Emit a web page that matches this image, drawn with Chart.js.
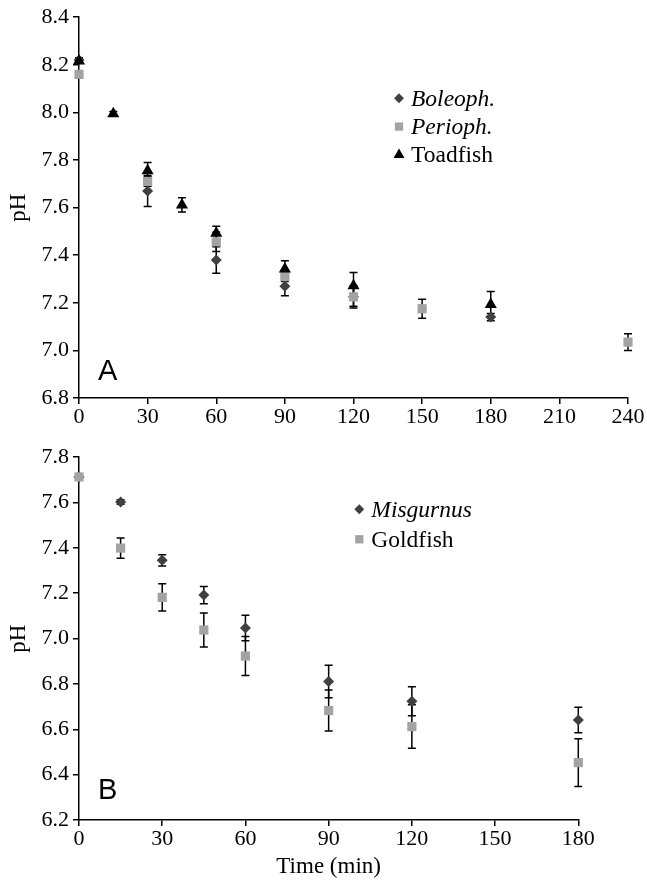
<!DOCTYPE html>
<html lang="en">
<head>
    <meta charset="UTF-8">
    <title>pH over time</title>
    <style>
        body {
            margin: 0;
            background-color: #ffffff;
        }
        .panel {
            position: absolute;
            left: 0;
            width: 647px;
        }
        #panelA { top: 0; height: 440px; }
        #panelB { top: 440px; height: 441px; }
    </style>
    <script src="https://cdn.jsdelivr.net/npm/chart.js"></script>
</head>
<body>
    <div id="panelA" class="panel"><canvas id="chartA"></canvas></div>
    <div id="panelB" class="panel"><canvas id="chartB"></canvas></div>

    <script>
        // Panel A
        const xTicksA = [0, 30, 60, 90, 120, 150, 180, 210, 240];
        const yTicksA = [6.8, 7.0, 7.2, 7.4, 7.6, 7.8, 8.0, 8.2, 8.4];

        const boleophTimes = [0, 30, 60, 90, 120, 180];
        const boleophPH = [8.22, 7.67, 7.38, 7.27, 7.225, 7.14];
        const boleophErr = [0.01, 0.065, 0.056, 0.04, 0.04, 0.015];

        const periophTimes = [0, 30, 60, 90, 120, 150, 240];
        const periophPH = [8.16, 7.71, 7.456, 7.31, 7.225, 7.175, 7.035];
        const periophErr = [0.015, 0.02, 0.04, 0.02, 0.047, 0.04, 0.035];

        const toadfishTimes = [0, 15, 30, 45, 60, 90, 120, 180];
        const toadfishPH = [8.216, 7.994, 7.755, 7.611, 7.492, 7.342, 7.272, 7.193];
        const toadfishErr = [0.01, 0.01, 0.035, 0.03, 0.03, 0.035, 0.055, 0.054];

        // Panel B
        const xTicksB = [0, 30, 60, 90, 120, 150, 180];
        const yTicksB = [6.2, 6.4, 6.6, 6.8, 7.0, 7.2, 7.4, 7.6, 7.8];

        const timesB = [0, 15, 30, 45, 60, 90, 120, 180];
        const misgurnusPH = [7.713, 7.602, 7.345, 7.192, 7.047, 6.811, 6.724, 6.641];
        const misgurnusErr = [0.005, 0.01, 0.025, 0.038, 0.056, 0.072, 0.064, 0.056];
        const goldfishPH = [7.713, 7.399, 7.182, 7.038, 6.923, 6.683, 6.612, 6.453];
        const goldfishErr = [0.005, 0.045, 0.06, 0.075, 0.086, 0.09, 0.096, 0.105];

        const DARK = '#404040';
        const LIGHT = '#a3a3a3';
        const BLACK = '#000000';
        const SERIF = '"Liberation Serif", "Times New Roman", serif';

        function points(xs, ys) {
            return xs.map((x, i) => ({ x: x, y: ys[i] }));
        }

        function series(label, xs, ys, errs, style, color, radius, order, italic) {
            return {
                label: label,
                data: points(xs, ys),
                errors: errs,
                italic: italic,
                order: order,
                clip: false,
                pointStyle: style,
                pointRadius: radius,
                pointHoverRadius: radius,
                backgroundColor: color,
                borderColor: color,
                borderWidth: 0,
                showLine: false
            };
        }

        // error bars drawn under the markers
        const errorBars = {
            id: 'errorBars',
            beforeDatasetsDraw(chart) {
                const ctx = chart.ctx;
                const yScale = chart.scales.y;
                ctx.save();
                ctx.strokeStyle = BLACK;
                ctx.lineWidth = 1.5;
                chart.data.datasets.forEach((ds, di) => {
                    const meta = chart.getDatasetMeta(di);
                    ds.data.forEach((p, i) => {
                        const e = ds.errors[i];
                        const px = meta.data[i].x;
                        const top = yScale.getPixelForValue(p.y + e);
                        const bot = yScale.getPixelForValue(p.y - e);
                        ctx.beginPath();
                        ctx.moveTo(px, top);
                        ctx.lineTo(px, bot);
                        ctx.moveTo(px - 4, top);
                        ctx.lineTo(px + 4, top);
                        ctx.moveTo(px - 4, bot);
                        ctx.lineTo(px + 4, bot);
                        ctx.stroke();
                    });
                });
                ctx.restore();
            }
        };

        function marker(ctx, style, x, y, r) {
            ctx.beginPath();
            if (style === 'rectRot') {
                ctx.moveTo(x, y - r);
                ctx.lineTo(x + r, y);
                ctx.lineTo(x, y + r);
                ctx.lineTo(x - r, y);
            } else if (style === 'rect') {
                const s = r * Math.SQRT1_2;
                ctx.rect(x - s, y - s, 2 * s, 2 * s);
            } else {
                const h = r * 1.5;
                const w = r * Math.sqrt(3) / 2;
                ctx.moveTo(x, y - r);
                ctx.lineTo(x + w, y + h - r);
                ctx.lineTo(x - w, y + h - r);
            }
            ctx.closePath();
            ctx.fill();
        }

        // hand drawn legend + panel letter
        const panelText = {
            id: 'panelText',
            afterDraw(chart, args, opts) {
                const ctx = chart.ctx;
                ctx.save();
                chart.data.datasets.forEach((ds, i) => {
                    const y = opts.legendY + i * opts.legendGap;
                    ctx.fillStyle = ds.backgroundColor;
                    marker(ctx, ds.pointStyle, opts.legendX, y, ds.pointRadius * 0.9);
                    ctx.fillStyle = BLACK;
                    ctx.font = (ds.italic ? 'italic ' : '') + '23.5px ' + SERIF;
                    ctx.textBaseline = 'alphabetic';
                    ctx.textAlign = 'left';
                    ctx.fillText(ds.label, opts.legendX + 12, y + 7.5);
                });
                ctx.font = '29px "Liberation Sans", Arial, sans-serif';
                ctx.fillStyle = BLACK;
                ctx.fillText(opts.letter, opts.letterX, opts.letterY);
                ctx.restore();
            }
        };

        function axes(xTicks, yTicks, xHeight, showTitle) {
            return {
                x: {
                    type: 'linear',
                    min: xTicks[0],
                    max: xTicks[xTicks.length - 1],
                    afterBuildTicks: s => { s.ticks = xTicks.map(v => ({ value: v })); },
                    afterFit: s => { s.height = xHeight; },
                    grid: { drawOnChartArea: false, drawTicks: true, tickLength: 6, color: BLACK, lineWidth: 1.5 },
                    border: { color: BLACK, width: 1.5 },
                    ticks: { color: BLACK, padding: 0, maxRotation: 0, font: { family: SERIF, size: 22 } },
                    title: {
                        display: showTitle,
                        text: 'Time (min)',
                        color: BLACK,
                        padding: { top: 0, bottom: 0 },
                        font: { family: SERIF, size: 23 }
                    }
                },
                y: {
                    type: 'linear',
                    min: yTicks[0],
                    max: yTicks[yTicks.length - 1],
                    afterBuildTicks: s => { s.ticks = yTicks.map(v => ({ value: v })); },
                    afterFit: s => { s.width = 79; },
                    grid: { drawOnChartArea: false, drawTicks: true, tickLength: 6, color: BLACK, lineWidth: 1.5 },
                    border: { color: BLACK, width: 1.5 },
                    ticks: {
                        color: BLACK,
                        padding: 4,
                        font: { family: SERIF, size: 22 },
                        callback: v => v.toFixed(1)
                    },
                    title: {
                        display: true,
                        text: 'pH',
                        color: BLACK,
                        padding: { top: 5, bottom: 0 },
                        font: { family: SERIF, size: 23 }
                    }
                }
            };
        }

        const common = {
            responsive: true,
            maintainAspectRatio: false,
            animation: false,
            events: []
        };

        new Chart(document.getElementById('chartA'), {
            type: 'scatter',
            data: {
                datasets: [
                    series('Boleoph.', boleophTimes, boleophPH, boleophErr, 'rectRot', DARK, 5.5, 2, true),
                    series('Perioph.', periophTimes, periophPH, periophErr, 'rect', LIGHT, 6.5, 1, true),
                    series('Toadfish', toadfishTimes, toadfishPH, toadfishErr, 'triangle', BLACK, 7, 0, false)
                ]
            },
            options: Object.assign({}, common, {
                layout: { padding: { top: 15, right: 19, left: 0, bottom: 0 } },
                scales: axes(xTicksA, yTicksA, 42, false),
                plugins: {
                    legend: { display: false },
                    tooltip: { enabled: false },
                    panelText: { legendX: 399, legendY: 98.3, legendGap: 28.3, letter: 'A', letterX: 98, letterY: 380 }
                }
            }),
            plugins: [errorBars, panelText]
        });

        new Chart(document.getElementById('chartB'), {
            type: 'scatter',
            data: {
                datasets: [
                    series('Misgurnus', timesB, misgurnusPH, misgurnusErr, 'rectRot', DARK, 5.5, 2, true),
                    series('Goldfish', timesB, goldfishPH, goldfishErr, 'rect', LIGHT, 6.5, 1, false)
                ]
            },
            options: Object.assign({}, common, {
                layout: { padding: { top: 13.3, right: 68.7, left: 0, bottom: 0 } },
                scales: axes(xTicksB, yTicksB, 61, true),
                plugins: {
                    legend: { display: false },
                    tooltip: { enabled: false },
                    panelText: { legendX: 359.3, legendY: 69.3, legendGap: 30, letter: 'B', letterX: 98, letterY: 359 }
                }
            }),
            plugins: [errorBars, panelText]
        });
    </script>
</body>
</html>
